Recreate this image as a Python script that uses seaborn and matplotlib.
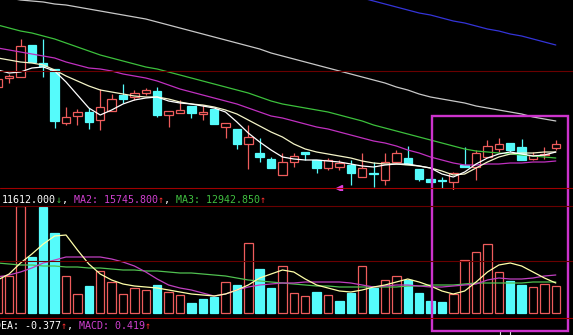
import numpy as np
import pandas as pd
import matplotlib
matplotlib.use("Agg")
import matplotlib.pyplot as plt
import seaborn as sns
from matplotlib.patches import Rectangle
from matplotlib.lines import Line2D

W, H, DPI = 573, 335, 100

# ---------------- data ----------------
opens  = [113,122,123,155,137,131, 77, 84, 88, 80, 89,105,103,107,109, 85, 87, 94, 86, 91,
           73, 71, 56, 47, 41, 25, 38, 48, 40, 32, 33, 35, 23, 27, 20, 38, 42, 31, 21, 20,
           18, 35, 33, 43, 51, 57, 53, 41, 45, 52]
closes = [121,124,154,138,134, 79, 83, 88, 78, 93,101,101,107,110, 85, 89, 90, 87, 88, 76,
           77, 56, 63, 43, 32, 38, 44, 46, 32, 40, 37, 27, 32, 26, 38, 47, 36, 21, 18, 19,
           27, 33, 47, 54, 56, 50, 40, 45, 46, 56]
highs  = [121,126,161,155,161,131, 93, 91, 92,111,106,116,110,112,113, 89,100, 94, 95, 91,
           77, 71, 75, 62, 43, 47, 47, 48, 40, 42, 40, 40, 47, 38, 47, 50, 54, 31, 23, 23,
           28, 53, 50, 60, 62, 57, 61, 48, 53, 60]
lows   = [113,117,123,138,123, 72, 75, 75, 71, 70, 89, 97,100,105, 83, 73, 87, 82, 80, 76,
           62, 51, 31, 38, 32, 25, 33, 40, 27, 30, 30, 15, 23, 13, 15, 38, 36, 19, 17, 12,
           10, 33, 20, 43, 48, 48, 40, 40, 41, 50]

ma5   = [130,127,128,132,133,129,118,105, 92, 85, 90, 96,100,102,103, 99, 97, 96, 94, 92,
          88, 78, 67, 58, 50, 43, 41, 40, 40, 39, 38, 36, 34, 33, 35, 36, 36, 34, 32, 26,
          23, 28, 36, 42, 46, 48, 46, 44, 45, 48]
ma10  = [142,140,138,137,135,130,124,119,114,110,108,106,104,103,103,101, 98, 96, 95, 93,
          90, 86, 80, 74, 68, 63, 56, 51, 48, 46, 44, 42, 39, 37, 36, 36, 35, 34, 32, 29,
          25, 26, 32, 38, 43, 46, 47, 47, 48, 48]
ma20  = [152,150,148,146,144,142,138,135,132,131,129,126,124,122,119,115,111,108,105,102,
          99, 96, 92, 88, 84, 82, 79, 76, 73, 71, 68, 65, 62, 59, 57, 54, 50, 47, 43, 40,
          37, 35, 35, 36, 36, 37, 37, 38, 38, 39]
ma30  = [175,172,169,167,164,161,157,153,149,145,142,139,136,133,131,128,125,122,119,116,
         113,110,107,103, 99, 96, 94, 92, 90, 88, 85, 82, 79, 75, 72, 69, 66, 63, 60, 57,
          54, 51, 49, 48, 47, 46, 45, 44, 43, 42]
ma60  = [204,202,200,199,198,196,195,193,191,189,187,185,183,181,178,175,172,169,166,163,
         160,157,154,151,147,144,141,138,135,132,129,126,123,120,117,113,110,106,103,101,
          99, 97, 94, 92, 90, 88, 86, 83, 81, 79]
ma120 = [np.nan]*31 + [205,202,199,196,193,190,187,185,182,179,177,174,171,169,166,164,161,158,155]

volume = [37, 37,107, 56,106, 80, 37, 19, 27, 42, 31, 19, 25, 23, 28, 21, 18, 10, 14, 16,
          31, 28, 70, 44, 25, 47, 20, 17, 21, 18, 12, 20, 47, 25, 33, 37, 33, 20, 12, 11,
          19, 53, 61, 69, 41, 32, 28, 26, 29, 27]
vol_side = list("rrrcccrrcrrrrrcrrcccrcrccrrrcrccrcrrcccc" + "rrrrrccrrr")
vma5  = [33, 39, 50, 59, 69, 77, 78, 63, 49, 39, 33, 29, 27, 26, 25, 23, 21, 19, 18, 17,
         19, 23, 28, 35, 39, 43, 41, 34, 28, 25, 22, 21, 23, 26, 28, 31, 34, 31, 27, 22,
         19, 22, 31, 41, 48, 50, 47, 41, 35, 30]
vma10 = [50, 49, 48, 48, 47, 47, 46, 46, 45, 45, 44, 43, 43, 42, 42, 41, 40, 40, 39, 38,
         37, 35, 33, 32, 31, 30, 29, 28, 27, 27, 26, 26, 26, 26, 26, 26, 27, 27, 28, 28,
         28, 29, 30, 30, 30, 30, 30, 31, 31, 31]
vma20 = [36, 38, 41, 45, 50, 53, 56, 56, 56, 56, 54, 51, 47, 41, 34, 28, 25, 23, 20, 17,
         19, 23, 26, 28, 29, 30, 30, 31, 31, 31, 31, 30, 28, 26, 27, 28, 28, 27, 26, 26,
         27, 28, 29, 33, 35, 34, 34, 35, 37, 38]

low_mark_idx, low_mark_val = 30, 12
date_tick_idx = [44.1, 45.0]

row1 = [("11612.000", "#ffffff"), ("\u2193", "#40c040"), (", ", "#ffffff"),
        ("MA2: 15745.800", "#d040d0"), ("\u2191", "#ff3030"), (", ", "#ffffff"),
        ("MA3: 12942.850", "#40c040"), ("\u2191", "#ff3030")]
row2 = [("DEA: -0.377", "#ffffff"), ("\u2191", "#ff3030"), (", ", "#ffffff"),
        ("MACD: 0.419", "#d040d0"), ("\u2191", "#ff3030")]

# ---------------- style ----------------
sns.set_style("dark", {"axes.facecolor": "black", "figure.facecolor": "black"})
plt.rcParams['font.family'] = ['DejaVu Sans Mono', 'DejaVu Sans']

RED = "#ee5c5c"
CYAN = "#55fbfb"
GRID = "#6a0000"

fig = plt.figure(figsize=(W / DPI, H / DPI), dpi=DPI, facecolor="black")

def fy(py):
    return 1 - py / H

ax1 = fig.add_axes([0, fy(190), 1, 190 / H])
ax2 = fig.add_axes([0, fy(318), 1, (318 - 206) / H])
ax3 = fig.add_axes([0, 0, 1, fy(330)])
for ax in (ax1, ax2, ax3):
    ax.set_facecolor("black")
    ax.set_axis_off()
    ax.set_xlim(0.2, 50.51)
ax1.set_ylim(10, 200)
ax2.set_ylim(-5, 107)
ax3.set_ylim(0, 1)

idx = np.arange(len(opens))
o = np.array(opens, float); c = np.array(closes, float)
hi = np.array(highs, float); lo = np.array(lows, float)
up = c >= o
cols = np.where(up, RED, CYAN)

# candles
ax1.vlines(idx, lo, hi, colors=cols, lw=0.9, zorder=2)
body_b = np.minimum(o, c)
body_h = np.maximum(np.abs(c - o), 0.8)
ax1.bar(idx, body_h, bottom=body_b, width=0.74,
        color=np.where(up, "black", CYAN), edgecolor=cols, lw=0.9, zorder=3)

# moving averages on price
ma_df = pd.DataFrame({"i": idx, "ma5": ma5, "ma10": ma10, "ma20": ma20,
                      "ma30": ma30, "ma60": ma60, "ma120": ma120})
for name, colr in [("ma60", "#c8c8c8"), ("ma120", "#3434d8"), ("ma30", "#3cc03c"),
                   ("ma20", "#c030c0"), ("ma10", "#f4f4c8"), ("ma5", "#ffffff")]:
    d = ma_df[["i", name]].dropna()
    sns.lineplot(data=d, x="i", y=name, ax=ax1, color=colr, lw=0.9,
                 estimator=None, sort=False, zorder=4)
ax1.plot([low_mark_idx], [low_mark_val], marker="<", color="#e040e0", ms=5, zorder=5)

# volume
vc = np.array([RED if s == "r" else CYAN for s in vol_side])
vf = np.array(["black" if s == "r" else CYAN for s in vol_side])
ax2.bar(idx, volume, width=0.74, color=vf, edgecolor=vc, lw=0.9, zorder=3)
vdf = pd.DataFrame({"i": idx, "vma5": vma5, "vma10": vma10, "vma20": vma20})
for name, colr in [("vma10", "#50c050"), ("vma20", "#c040c0"), ("vma5", "#ffffa8")]:
    sns.lineplot(data=vdf, x="i", y=name, ax=ax2, color=colr, lw=0.9,
                 estimator=None, sort=False, zorder=4)

# small date ticks under the panels
ax3.vlines(date_tick_idx, 0, 1, colors="#e0e0e0", lw=0.8)

for ax in (ax1, ax2, ax3):
    ax.set_xlabel(""); ax.set_ylabel("")
    ax.set_xlim(0.2, 50.51)

# panel lines
for py, colr in [(71, GRID), (188, "#a00000"), (206, GRID), (261, GRID), (318, "#a00000")]:
    fig.add_artist(Line2D([0, 1], [fy(py), fy(py)], color=colr, lw=0.8,
                          transform=fig.transFigure))

# text rows
cw = 6.0
fs = cw / 0.602 * 72 / DPI
def draw_row(pieces, x0, yc):
    k = 0
    for s, colr in pieces:
        fig.text((x0 + cw * k) / W, fy(yc), s, color=colr, fontsize=fs,
                 ha="left", va="center", family=["DejaVu Sans Mono", "DejaVu Sans"])
        k += len(s)
draw_row(row1, 2, 200)
draw_row(row2, -5, 326)

# highlight box
fig.add_artist(Rectangle((432 / W, fy(331)), (568 - 432) / W, (331 - 116) / H,
                         fill=False, edgecolor="#cc33cc", lw=1.7,
                         transform=fig.transFigure))

fig.savefig("out.png", dpi=DPI, facecolor="black")
